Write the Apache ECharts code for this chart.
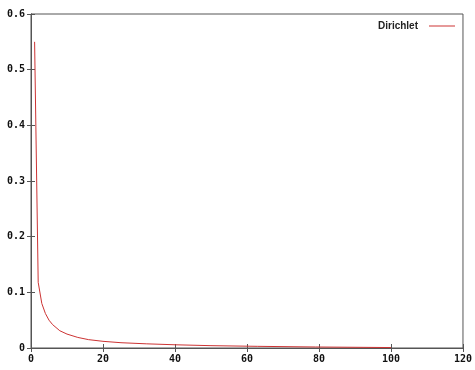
<!DOCTYPE html>
<html>
<head>
<meta charset="utf-8">
<script src="https://cdn.jsdelivr.net/npm/echarts@6/dist/echarts.min.js"></script>
<style>
html, body { margin: 0; padding: 0; background: #fff; }
#main { width: 475px; height: 370px; }
</style>
</head>
<body>
<div id="main"></div>
<script>
var chartDom = document.getElementById('main');
var myChart = echarts.init(chartDom);

// values
var xVals = [1, 2, 3, 4, 5, 6, 8, 10, 13, 16, 20, 25, 32, 40, 50, 63, 79, 100];
var yVals = [0.55, 0.118, 0.08, 0.062, 0.05, 0.042, 0.031, 0.025, 0.019, 0.015, 0.012, 0.0095, 0.0075, 0.0058, 0.0042, 0.003, 0.0018, 0.0008];
var seriesName = 'Dirichlet';

var points = xVals.map(function (x, i) { return [x, yVals[i]]; });

var LABEL_FONT = {
  fontFamily: 'DejaVu Sans Mono',
  fontWeight: 'bold',
  fontSize: 10,
  color: '#111'
};
var AXIS_COLOR = '#555';

var option = {
  backgroundColor: '#fff',
  animation: false,
  grid: {
    left: 31,
    right: 10,
    top: 14,
    bottom: 22,
    show: true,
    borderColor: AXIS_COLOR,
    borderWidth: 1
  },
  legend: {
    data: [seriesName],
    right: 15,
    top: 16,
    align: 'right',
    icon: 'rect',
    itemWidth: 26,
    itemHeight: 1,
    textStyle: {
      fontFamily: 'Liberation Sans',
      fontWeight: 'bold',
      fontSize: 10,
      color: '#222',
      padding: [0, 6, 0, 0]
    }
  },
  xAxis: [
    {
      type: 'value',
      min: 0,
      max: 120,
      interval: 20,
      splitLine: { show: false },
      axisLine: { lineStyle: { color: AXIS_COLOR } },
      axisTick: { inside: true, length: 4, lineStyle: { color: AXIS_COLOR } },
      axisLabel: Object.assign({ margin: 6 }, LABEL_FONT)
    },
    {
      type: 'value',
      position: 'top',
      min: 0,
      max: 120,
      interval: 20,
      splitLine: { show: false },
      axisLine: { lineStyle: { color: AXIS_COLOR } },
      axisTick: { inside: true, length: 4, lineStyle: { color: AXIS_COLOR } },
      axisLabel: { show: false }
    }
  ],
  yAxis: [
    {
      type: 'value',
      min: 0,
      max: 0.6,
      interval: 0.1,
      splitLine: { show: false },
      axisLine: { show: true, lineStyle: { color: AXIS_COLOR } },
      axisTick: { show: true, inside: true, length: 4, lineStyle: { color: AXIS_COLOR } },
      axisLabel: Object.assign({ margin: 6 }, LABEL_FONT)
    },
    {
      type: 'value',
      position: 'right',
      min: 0,
      max: 0.6,
      interval: 0.1,
      splitLine: { show: false },
      axisLine: { show: true, lineStyle: { color: AXIS_COLOR } },
      axisTick: { show: true, inside: true, length: 4, lineStyle: { color: AXIS_COLOR } },
      axisLabel: { show: false }
    }
  ],
  series: [
    {
      name: seriesName,
      type: 'line',
      data: points,
      showSymbol: false,
      symbol: 'none',
      lineStyle: { color: '#cc3333', width: 1 },
      itemStyle: { color: '#cc3333' }
    }
  ]
};

myChart.setOption(option);
</script>
</body>
</html>
